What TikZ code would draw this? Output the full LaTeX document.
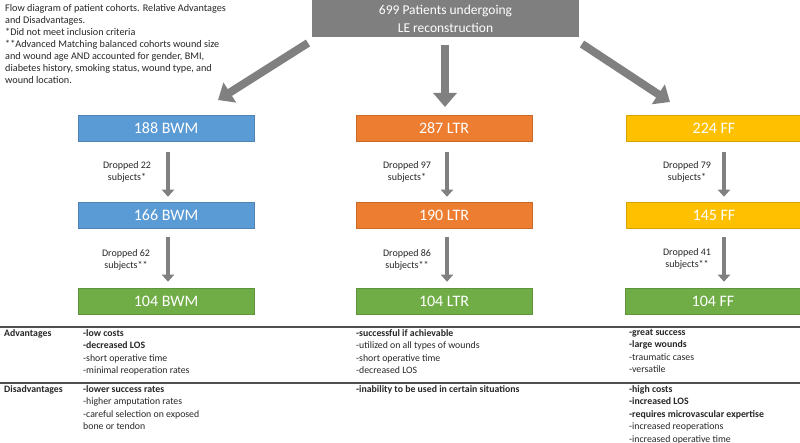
\documentclass[tikz,border=0pt]{standalone}
\usepackage{fontspec}
\setmainfont{Carlito}
\usetikzlibrary{arrows.meta}
\definecolor{cblue}{HTML}{5B9BD5}
\definecolor{corange}{HTML}{ED7D31}
\definecolor{cgold}{HTML}{FFC000}
\definecolor{cgreen}{HTML}{70AD47}
\definecolor{cgray}{HTML}{7F7F7F}
\definecolor{agray}{HTML}{808080}
\definecolor{rulec}{HTML}{505050}
\definecolor{txt}{HTML}{262626}
\begin{document}
\begin{tikzpicture}[x=1pt,y=-1pt,
  cohort/.style={draw=#1!85!black, line width=0.5pt, fill=#1, text=white,
    minimum width=176pt, minimum height=26pt, inner sep=0pt,
    font=\fontsize{16}{18}\selectfont},
  bigarrow/.style={draw=agray, line width=8pt, -{Triangle[width=23pt,length=14pt]}},
  smallarrow/.style={draw=agray, line width=4.5pt, -{Triangle[width=12pt,length=7pt]}},
  droplbl/.style={align=center, inner sep=0pt, text=txt, font=\fontsize{10}{12.5}\selectfont},
  cell/.style={anchor=north west, align=left, inner sep=0pt, text=txt, font=\fontsize{9.8}{12.5}\selectfont},
  tabrule/.style={draw=rulec, line width=1.6pt}
]
\useasboundingbox (0,0) rectangle (800,443);

% note
\node[anchor=north west, align=left, inner sep=0pt, text=txt, font=\fontsize{10.2}{12}\selectfont] (note) at (5,4)
 {Flow diagram of patient cohorts. Relative Advantages\\
  and Disadvantages.\\
  *Did not meet inclusion criteria\\
  **Advanced Matching balanced cohorts wound size\\
  and wound age AND accounted for gender, BMI,\\
  diabetes history, smoking status, wound type, and\\
  wound location.};

% top box
\node[fill=cgray, text=white, minimum width=267pt, minimum height=37pt, inner sep=0pt,
  align=center, font=\fontsize{13.5}{18}\selectfont] (top) at (445.5,18.5)
  {699 Patients undergoing\\LE reconstruction};

% cohort boxes
\node[cohort=cblue]   (bwm1) at (166,128) {188 BWM};
\node[cohort=cblue]   (bwm2) at (166,215) {166 BWM};
\node[cohort=cgreen]  (bwm3) at (166,301) {104 BWM};
\node[cohort=corange] (ltr1) at (444,128) {287 LTR};
\node[cohort=corange] (ltr2) at (444,215) {190 LTR};
\node[cohort=cgreen]  (ltr3) at (444,301) {104 LTR};
\node[cohort=cgold]   (ff1)  at (714,128) {224 FF};
\node[cohort=cgold]   (ff2)  at (714,215) {145 FF};
\node[cohort=cgreen]  (ff3)  at (713,301) {104 FF};

% big arrows
\coordinate (ls) at (308,43);  \coordinate (le) at (218,100);
\coordinate (cs) at (445,45);  \coordinate (ce) at (445,107);
\coordinate (rs) at (582,44);  \coordinate (re) at (670,102);
\draw[bigarrow] (ls) -- (le);
\draw[bigarrow] (cs) -- (ce);
\draw[bigarrow] (rs) -- (re);

% small arrows
\draw[smallarrow] ([xshift=2pt,yshift=-11pt]bwm1.south) -- ([xshift=2pt,yshift=5pt]bwm2.north);
\draw[smallarrow] ([xshift=2pt,yshift=-9pt]bwm2.south) -- ([xshift=2pt,yshift=6pt]bwm3.north);
\draw[smallarrow] ([xshift=3pt,yshift=-11pt]ltr1.south) -- ([xshift=3pt,yshift=5pt]ltr2.north);
\draw[smallarrow] ([xshift=3pt,yshift=-9pt]ltr2.south) -- ([xshift=3pt,yshift=6pt]ltr3.north);
\draw[smallarrow] ([xshift=10pt,yshift=-11pt]ff1.south) -- ([xshift=10pt,yshift=5pt]ff2.north);
\draw[smallarrow] ([xshift=10pt,yshift=-9pt]ff2.south) -- ([xshift=11pt,yshift=6pt]ff3.north);

% drop labels
\node[droplbl] (d1) at (127,172) {Dropped 22\\subjects*};
\node[droplbl] (d2) at (126,260) {Dropped 62\\subjects**};
\node[droplbl] (d3) at (407,172) {Dropped 97\\subjects*};
\node[droplbl] (d4) at (407,260) {Dropped 86\\subjects**};
\node[droplbl] (d5) at (687,172) {Dropped 79\\subjects*};
\node[droplbl] (d6) at (687,259) {Dropped 41\\subjects**};

% table
\coordinate (r1l) at (0,327); \coordinate (r1r) at (800,327);
\coordinate (r2l) at (0,383); \coordinate (r2r) at (800,383);
\draw[tabrule] (r1l) -- (r1r);
\draw[tabrule] (r2l) -- (r2r);

\node[cell] (advh) at (4,329) {\textbf{Advantages}};
\node[cell] (dish) at (4,385) {\textbf{Disadvantages}};

\node[cell] (adv1) at (83,329) {\textbf{-low costs}\\\textbf{-decreased LOS}\\-short operative time\\-minimal reoperation rates};
\node[cell] (adv2) at (356,329) {\textbf{-successful if achievable}\\-utilized on all types of wounds\\-short operative time\\-decreased LOS};
\node[cell] (adv3) at (629,329) {\textbf{-great success}\\\textbf{-large wounds}\\-traumatic cases\\-versatile};

\node[cell] (dis1) at (83,385) {\textbf{-lower success rates}\\-higher amputation rates\\-careful selection on exposed\\bone or tendon};
\node[cell] (dis2) at (356,385) {\textbf{-inability to be used in certain situations}};
\node[cell] (dis3) at (629,385) {\textbf{-high costs}\\\textbf{-increased LOS}\\\textbf{-requires microvascular expertise}\\-increased reoperations\\-increased operative time};
\end{tikzpicture}
\end{document}
